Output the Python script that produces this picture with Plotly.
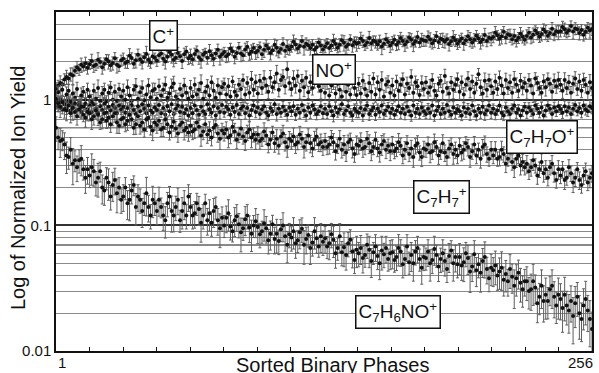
import plotly.graph_objects as go

phase = list(range(1, 257))

c_plus = [
1.22,1.30,1.36,1.33,1.45,1.52,1.48,1.60,1.56,1.70,1.82,1.74,1.90,1.84,1.95,1.80,
1.92,2.04,1.86,1.90,2.08,2.00,1.82,1.94,2.10,2.02,1.88,1.96,2.14,1.90,1.85,2.06,
2.12,1.96,2.02,2.24,2.15,1.94,2.06,2.28,2.10,2.00,2.18,2.32,2.08,1.98,2.22,2.16,
2.05,2.26,2.34,2.12,2.02,2.20,2.40,2.28,2.08,2.16,2.36,2.22,2.04,2.30,2.42,2.14,
2.24,2.10,2.32,2.46,2.18,2.08,2.28,2.38,2.16,2.44,2.26,2.12,2.34,2.50,2.20,2.30,
2.40,2.22,2.30,2.56,2.44,2.20,2.36,2.60,2.34,2.26,2.52,2.64,2.32,2.42,2.58,2.38,
2.46,2.62,2.30,2.50,2.70,2.56,2.36,2.48,2.74,2.60,2.40,2.54,2.78,2.46,2.64,2.52,
2.66,2.90,2.76,2.56,2.68,2.94,2.64,2.80,2.72,2.58,2.74,2.50,2.62,2.86,2.70,2.52,
2.66,2.82,2.58,2.70,2.94,2.78,2.60,2.74,2.98,2.84,2.64,2.76,3.02,2.72,2.88,2.80,
2.84,3.08,2.94,2.72,2.86,3.10,2.82,2.96,2.90,2.76,2.92,2.66,2.80,3.04,2.88,2.70,
2.84,3.00,2.74,2.88,3.10,2.94,2.76,2.90,3.14,3.00,2.78,2.92,3.16,2.86,3.02,2.96,
2.94,3.18,3.02,2.82,2.96,3.20,2.88,3.06,3.00,2.90,3.04,2.78,2.92,3.14,2.98,2.80,
2.94,3.08,2.82,2.98,3.20,3.04,2.86,3.00,3.24,3.08,2.88,3.02,3.28,2.94,3.12,3.06,
3.16,3.42,3.26,3.06,3.20,3.48,3.14,3.32,3.26,3.04,3.22,2.96,3.12,3.36,3.18,3.00,
3.22,3.42,3.14,3.30,3.56,3.38,3.18,3.34,3.62,3.46,3.24,3.40,3.68,3.32,3.52,3.46,
3.52,3.80,3.64,3.42,3.58,3.86,3.50,3.70,3.64,3.40,3.60,3.30,3.48,3.74,3.56,3.66]

no_plus = [
0.98,1.15,1.02,1.20,0.94,1.10,1.18,0.96,1.12,1.04,1.22,0.95,1.08,1.16,1.00,1.20,
1.06,0.96,1.18,1.02,1.24,0.98,1.12,1.20,0.97,1.14,1.25,1.00,1.16,0.98,1.22,1.06,
1.18,1.00,1.26,1.08,0.98,1.20,1.28,1.02,1.15,1.24,0.99,1.10,1.30,1.05,1.18,1.22,
1.02,1.28,1.08,1.20,1.32,1.04,1.12,1.26,1.35,1.06,1.00,1.22,1.08,1.30,1.14,1.02,
1.24,1.06,1.32,1.10,1.20,1.36,1.02,1.16,1.28,1.08,1.38,1.18,1.04,1.30,1.12,1.26,
1.34,1.10,1.28,1.06,1.40,1.16,1.08,1.32,1.22,1.44,1.10,1.36,1.14,1.46,1.20,1.38,
1.12,1.42,1.24,1.48,1.30,1.16,1.50,1.26,1.38,1.62,1.20,1.44,1.52,1.28,1.75,1.36,
1.22,1.48,1.30,1.55,1.18,1.42,1.26,1.50,1.15,1.38,1.24,1.46,1.52,1.28,1.18,1.40,
1.14,1.36,1.08,1.30,1.42,1.12,1.34,1.20,1.06,1.38,1.16,1.32,1.10,1.45,1.24,1.09,
1.34,1.12,1.42,1.22,1.08,1.36,1.16,1.48,1.10,1.38,1.20,1.44,1.06,1.32,1.40,1.14,
1.30,1.08,1.40,1.18,1.32,1.46,1.10,1.34,1.24,1.52,1.14,1.38,1.28,1.09,1.36,1.22,
1.38,1.14,1.26,1.44,1.18,1.08,1.34,1.42,1.16,1.55,1.24,1.12,1.38,1.20,1.32,1.46,
1.16,1.38,1.10,1.32,1.48,1.22,1.40,1.14,1.34,1.60,1.26,1.12,1.42,1.20,1.44,1.28,
1.14,1.40,1.22,1.50,1.30,1.12,1.44,1.24,1.38,1.14,1.46,1.32,1.18,1.42,1.26,1.36,
1.18,1.44,1.30,1.12,1.48,1.36,1.24,1.14,1.40,1.26,1.46,1.34,1.16,1.42,1.28,1.44,
1.32,1.18,1.44,1.24,1.38,1.14,1.34,1.48,1.22,1.40,1.18,1.44,1.32,1.14,1.38,1.24]

c7h7o_plus = [
0.98,0.88,0.95,0.84,0.92,0.86,0.97,0.82,0.90,0.94,0.83,0.91,0.80,0.88,0.93,0.84,
0.90,0.80,0.92,0.85,0.78,0.89,0.83,0.93,0.79,0.88,0.82,0.91,0.86,0.78,0.90,0.84,
0.88,0.79,0.86,0.76,0.91,0.83,0.77,0.89,0.81,0.92,0.85,0.78,0.90,0.82,0.79,0.87,
0.83,0.91,0.78,0.86,0.76,0.89,0.81,0.92,0.77,0.85,0.90,0.80,0.88,0.78,0.84,0.75,
0.86,0.78,0.90,0.83,0.76,0.88,0.81,0.77,0.92,0.84,0.79,0.89,0.75,0.86,0.80,0.91,
0.79,0.88,0.84,0.76,0.87,0.80,0.91,0.77,0.85,0.89,0.78,0.86,0.75,0.83,0.90,0.80,
0.87,0.77,0.84,0.89,0.79,0.75,0.86,0.81,0.92,0.77,0.85,0.79,0.88,0.82,0.76,0.87,
0.81,0.89,0.76,0.85,0.79,0.91,0.82,0.75,0.87,0.79,0.90,0.84,0.77,0.81,0.89,0.78,
0.85,0.77,0.89,0.81,0.75,0.87,0.79,0.84,0.92,0.77,0.82,0.89,0.79,0.75,0.85,0.81,
0.79,0.86,0.75,0.84,0.90,0.77,0.82,0.87,0.76,0.85,0.80,0.90,0.77,0.82,0.88,0.79,
0.85,0.76,0.82,0.89,0.79,0.85,0.77,0.88,0.81,0.75,0.90,0.79,0.85,0.77,0.87,0.81,
0.77,0.85,0.79,0.90,0.75,0.82,0.88,0.77,0.85,0.79,0.91,0.81,0.76,0.87,0.79,0.84,
0.81,0.75,0.87,0.79,0.85,0.77,0.90,0.81,0.75,0.85,0.79,0.88,0.77,0.82,0.90,0.79,
0.85,0.77,0.82,0.90,0.79,0.75,0.87,0.81,0.77,0.85,0.90,0.79,0.84,0.75,0.82,0.88,
0.79,0.87,0.82,0.77,0.90,0.85,0.79,0.87,0.75,0.82,0.90,0.85,0.77,0.87,0.81,0.89,
0.84,0.79,0.89,0.81,0.87,0.77,0.85,0.91,0.81,0.86,0.79,0.90,0.84,0.81,0.89,0.86]

c7h7_plus = [
1.02,0.94,0.88,0.96,0.84,0.82,0.90,0.78,0.86,0.80,0.74,0.84,0.88,0.76,0.72,0.80,
0.78,0.70,0.74,0.82,0.76,0.66,0.70,0.78,0.68,0.72,0.64,0.74,0.78,0.66,0.62,0.70,
0.72,0.64,0.68,0.76,0.70,0.60,0.64,0.74,0.62,0.66,0.58,0.70,0.72,0.61,0.57,0.66,
0.63,0.68,0.58,0.60,0.70,0.64,0.55,0.61,0.67,0.59,0.54,0.63,0.66,0.57,0.60,0.55,
0.62,0.56,0.58,0.66,0.61,0.52,0.56,0.64,0.53,0.57,0.50,0.60,0.63,0.54,0.49,0.57,
0.54,0.58,0.50,0.52,0.61,0.56,0.48,0.53,0.59,0.51,0.47,0.55,0.58,0.50,0.53,0.48,
0.53,0.47,0.49,0.56,0.52,0.44,0.48,0.55,0.45,0.49,0.43,0.51,0.54,0.46,0.42,0.49,
0.47,0.51,0.44,0.46,0.53,0.49,0.42,0.46,0.52,0.45,0.41,0.48,0.51,0.44,0.46,0.42,
0.47,0.42,0.44,0.50,0.46,0.39,0.43,0.49,0.40,0.44,0.38,0.46,0.48,0.41,0.37,0.44,
0.43,0.47,0.41,0.42,0.49,0.45,0.39,0.42,0.48,0.41,0.38,0.44,0.47,0.40,0.43,0.39,
0.44,0.39,0.41,0.46,0.43,0.36,0.40,0.45,0.37,0.41,0.35,0.43,0.45,0.38,0.35,0.41,
0.40,0.44,0.38,0.39,0.46,0.42,0.36,0.39,0.45,0.38,0.35,0.41,0.44,0.37,0.40,0.36,
0.43,0.38,0.40,0.45,0.42,0.35,0.39,0.44,0.36,0.40,0.34,0.42,0.44,0.37,0.34,0.40,
0.36,0.40,0.34,0.35,0.40,0.37,0.31,0.34,0.38,0.32,0.29,0.34,0.36,0.30,0.32,0.29,
0.31,0.27,0.29,0.33,0.30,0.25,0.28,0.32,0.26,0.28,0.24,0.29,0.31,0.26,0.23,0.28,
0.25,0.28,0.23,0.24,0.29,0.26,0.22,0.24,0.28,0.23,0.21,0.25,0.27,0.22,0.24,0.26]

c7h6no_plus = [
0.60,0.50,0.47,0.48,0.44,0.36,0.35,0.40,0.31,0.33,0.29,0.33,0.34,0.28,0.24,0.28,
0.25,0.29,0.27,0.22,0.24,0.27,0.20,0.19,0.24,0.22,0.17,0.21,0.23,0.18,0.20,0.16,
0.17,0.20,0.15,0.16,0.19,0.21,0.14,0.17,0.16,0.13,0.15,0.18,0.14,0.12,0.16,0.15,
0.13,0.16,0.14,0.12,0.11,0.15,0.17,0.13,0.12,0.14,0.16,0.11,0.13,0.15,0.12,0.17,
0.14,0.12,0.125,0.15,0.135,0.105,0.12,0.15,0.11,0.125,0.105,0.13,0.14,0.11,0.095,0.115,
0.10,0.115,0.125,0.098,0.09,0.11,0.118,0.102,0.088,0.095,0.112,0.12,0.096,0.086,0.10,0.108,
0.097,0.085,0.09,0.104,0.095,0.076,0.086,0.102,0.078,0.086,0.075,0.093,0.10,0.082,0.07,0.085,
0.08,0.09,0.072,0.076,0.088,0.094,0.07,0.078,0.084,0.066,0.073,0.09,0.079,0.068,0.082,0.074,
0.079,0.068,0.072,0.085,0.077,0.06,0.066,0.082,0.061,0.067,0.058,0.072,0.077,0.062,0.053,0.064,
0.06,0.066,0.055,0.058,0.07,0.064,0.052,0.061,0.068,0.057,0.05,0.063,0.059,0.066,0.054,0.06,
0.061,0.053,0.056,0.066,0.062,0.049,0.054,0.068,0.051,0.058,0.05,0.062,0.066,0.054,0.046,0.056,
0.055,0.062,0.05,0.053,0.065,0.058,0.047,0.054,0.06,0.052,0.045,0.057,0.063,0.05,0.056,0.049,
0.056,0.048,0.051,0.06,0.055,0.043,0.047,0.059,0.044,0.049,0.042,0.052,0.056,0.045,0.038,0.046,
0.044,0.048,0.04,0.043,0.046,0.037,0.041,0.036,0.045,0.039,0.033,0.038,0.042,0.035,0.031,0.036,
0.036,0.03,0.031,0.036,0.032,0.024,0.027,0.033,0.025,0.028,0.025,0.031,0.033,0.027,0.023,0.028,
0.026,0.022,0.028,0.023,0.021,0.025,0.019,0.024,0.027,0.02,0.018,0.023,0.026,0.021,0.018,0.015]

# relative error bars, percent of value
c_plus_err = [
12,10,14,9,11,13,10,12,15,9,11,10,13,8,12,11, 9,13,11,10,14,8,12,11,9,13,10,12,11,14,9,10,
11,9,12,14,10,8,13,11,10,12,9,15,11,10,13,9, 10,12,8,11,13,10,9,14,12,10,11,9,13,12,10,11,
13,10,11,9,12,14,10,8,11,13,10,12,9,11,14,10, 9,11,13,10,8,12,11,10,14,9,12,10,11,13,9,12,
12,10,9,13,11,10,12,8,11,14,10,9,12,11,13,10, 10,13,11,9,12,10,14,11,9,12,10,13,11,8,12,10,
11,9,12,10,13,11,9,12,10,14,11,10,9,12,10,13, 10,12,11,9,10,13,12,9,11,10,12,14,10,11,9,12,
12,9,10,13,11,10,12,11,9,12,13,10,11,9,12,10, 9,11,13,10,12,9,11,10,13,11,10,12,9,13,11,10,
11,10,12,9,11,13,10,12,10,9,12,11,13,10,9,12, 10,12,9,11,13,10,11,9,12,10,13,11,10,12,11,9,
12,10,11,13,9,11,10,12,11,13,10,9,12,11,10,13, 10,11,12,9,11,10,13,11,9,12,10,11,12,10,13,11]

no_plus_err = [
14,12,16,11,13,15,12,14,17,11,13,12,15,10,14,13, 11,15,13,12,16,10,14,13,11,15,12,14,13,16,11,12,
13,11,14,16,12,10,15,13,12,14,11,17,13,12,15,11, 12,14,10,13,15,12,11,16,14,12,13,11,15,14,12,13,
15,12,13,11,14,16,12,10,13,15,12,14,11,13,16,12, 11,13,15,12,10,14,13,12,16,11,14,12,13,15,11,14,
14,12,11,15,13,12,14,10,13,16,12,11,14,13,15,12, 12,15,13,11,14,12,16,13,11,14,12,15,13,10,14,12,
13,11,14,12,15,13,11,14,12,16,13,12,11,14,12,15, 12,14,13,11,12,15,14,11,13,12,14,16,12,13,11,14,
14,11,12,15,13,12,14,13,11,14,15,12,13,11,14,12, 11,13,15,12,14,11,13,12,15,13,12,14,11,15,13,12,
13,12,14,11,13,15,12,14,12,11,14,13,15,12,11,14, 12,14,11,13,15,12,13,11,14,12,15,13,12,14,13,11,
14,12,13,15,11,13,12,14,13,15,12,11,14,13,12,15, 12,13,14,11,13,12,15,13,11,14,12,13,14,12,15,13]

c7h7o_plus_err = [
10,9,12,8,10,11,9,10,13,8,10,9,11,7,10,10, 8,11,10,9,12,7,10,10,8,11,9,10,10,12,8,9,
10,8,10,12,9,7,11,10,9,10,8,13,10,9,11,8, 9,10,7,10,11,9,8,12,10,9,10,8,11,10,9,10,
11,9,10,8,10,12,9,7,10,11,9,10,8,10,12,9, 8,10,11,9,7,10,10,9,12,8,10,9,10,11,8,10,
10,9,8,11,10,9,10,7,10,12,9,8,10,10,11,9, 9,11,10,8,10,9,12,10,8,10,9,11,10,7,10,9,
10,8,10,9,11,10,8,10,9,12,10,9,8,10,9,11, 9,10,10,8,9,11,10,8,10,9,10,12,9,10,8,10,
10,8,9,11,10,9,10,10,8,10,11,9,10,8,10,9, 8,10,11,9,10,8,10,9,11,10,9,10,8,11,10,9,
10,9,10,8,10,11,9,10,9,8,10,10,11,9,8,10, 9,10,8,10,11,9,10,8,10,9,11,10,9,10,10,8,
10,9,10,11,8,10,9,10,10,11,9,8,10,10,9,11, 9,10,10,8,10,9,11,10,8,10,9,10,10,9,11,10]

c7h7_plus_err = [
16,14,18,13,15,17,14,16,20,13,15,14,17,12,16,15, 13,17,15,14,18,12,16,15,13,17,14,16,15,18,13,14,
15,13,16,18,14,12,17,15,14,16,13,20,15,14,17,13, 14,16,12,15,17,14,13,18,16,14,15,13,17,16,14,15,
17,14,15,13,16,18,14,12,15,17,14,16,13,15,18,14, 13,15,17,14,12,16,15,14,18,13,16,14,15,17,13,16,
16,14,13,17,15,14,16,12,15,18,14,13,16,15,17,14, 14,17,15,13,16,14,18,15,13,16,14,17,15,12,16,14,
15,13,16,14,17,15,13,16,14,18,15,14,13,16,14,17, 14,16,15,13,14,17,16,13,15,14,16,18,14,15,13,16,
16,13,14,17,15,14,16,15,13,16,17,14,15,13,16,14, 13,15,17,14,16,13,15,14,17,15,14,16,13,17,15,14,
15,14,16,13,15,17,14,16,14,13,16,15,17,14,13,16, 14,16,13,15,17,14,15,13,16,14,17,15,14,16,15,13,
16,14,15,17,13,15,14,16,15,17,14,13,16,15,14,17, 14,15,16,13,15,14,17,15,13,16,14,15,16,14,17,15]

c7h6no_plus_err = [
22,20,26,18,24,28,20,25,32,19,23,21,27,18,25,24, 20,28,24,22,30,18,26,24,20,28,22,26,24,30,20,22,
24,20,26,32,22,18,28,24,22,26,20,34,24,22,28,20, 22,26,18,24,28,22,20,32,26,22,24,20,28,26,22,24,
28,22,24,20,26,30,22,18,24,28,22,26,20,24,30,22, 20,24,28,22,18,26,24,22,30,20,26,22,24,28,20,26,
26,22,20,28,24,22,26,18,24,30,22,20,26,24,28,22, 22,28,24,20,26,22,30,24,20,26,22,28,24,18,26,22,
24,20,26,22,28,24,20,26,22,30,24,22,20,26,22,28, 22,26,24,20,22,28,26,20,24,22,26,30,22,24,20,26,
26,20,22,28,24,22,26,24,20,26,28,22,24,20,26,22, 20,24,28,22,26,20,24,22,28,24,22,26,20,28,24,22,
28,24,30,22,26,32,24,28,26,22,30,26,32,24,22,28, 26,30,24,28,34,26,28,24,30,26,34,28,26,30,28,24,
30,28,32,36,26,30,28,34,32,36,28,26,34,32,28,36, 32,36,38,30,34,32,40,36,30,38,34,36,38,32,40,36]

series = [
    (c_plus, c_plus_err),
    (no_plus, no_plus_err),
    (c7h7o_plus, c7h7o_plus_err),
    (c7h7_plus, c7h7_plus_err),
    (c7h6no_plus, c7h6no_plus_err),
]

labels = ["C<sup>+</sup>", "NO<sup>+</sup>", "C<sub>7</sub>H<sub>7</sub>O<sup>+</sup>",
          "C<sub>7</sub>H<sub>7</sub><sup>+</sup>", "C<sub>7</sub>H<sub>6</sub>NO<sup>+</sup>"]
label_pos = [(0.2007, 0.932), (0.5186, 0.829), (0.906, 0.630), (0.7193, 0.454), (0.6385, 0.114)]

minor_grid = [0.02, 0.03, 0.04, 0.05, 0.06, 0.07, 0.08, 0.09,
              0.2, 0.3, 0.4, 0.5, 0.6, 0.7, 0.8, 0.9, 2, 3, 4]
dark_grid = [0.07, 0.6]

FONT = "Liberation Sans, Arial, sans-serif"

fig = go.Figure()
for vals, err in series:
    fig.add_trace(go.Scatter(
        x=phase, y=vals, mode="markers",
        marker=dict(size=4, color="#111111"),
        error_y=dict(type="data", array=[v * e / 100 for v, e in zip(vals, err)],
                     color="#5e5e5e", thickness=1, width=1.5),
        showlegend=False, hoverinfo="skip"))

for g in dark_grid:
    fig.add_hline(y=g, line=dict(color="#111111", width=1.4), layer="below")

annotations = []
for txt, (px, py) in zip(labels, label_pos):
    annotations.append(dict(text=txt, xref="paper", yref="paper", x=px, y=py,
                            xanchor="center", yanchor="middle",
                            showarrow=False, font=dict(family=FONT, size=19, color="#111111"),
                            bgcolor="white", bordercolor="#111111", borderwidth=1.5, borderpad=2))
annotations += [
    dict(text="1", xref="x", yref="paper", x=1, y=0, xanchor="left", yanchor="top",
         yshift=-1, showarrow=False, font=dict(family=FONT, size=15, color="#111111")),
    dict(text="256", xref="x", yref="paper", x=256, y=0, xanchor="right", yanchor="top",
         xshift=3, yshift=-1, showarrow=False, font=dict(family=FONT, size=15, color="#111111")),
    dict(text="Sorted Binary Phases", xref="paper", yref="paper", x=0.515, y=0,
         xanchor="center", yanchor="top", yshift=-1, showarrow=False,
         font=dict(family=FONT, size=20, color="#111111")),
    dict(text="Log of Normalized Ion Yield", xref="paper", yref="paper", x=-0.0706, y=0.481,
         xanchor="center", yanchor="middle", textangle=-90, showarrow=False,
         font=dict(family=FONT, size=20, color="#111111")),
]

fig.update_layout(
    width=599, height=373,
    margin=dict(l=56, r=5, t=12, b=22),
    paper_bgcolor="white", plot_bgcolor="white",
    font=dict(family=FONT, color="#111111"),
    annotations=annotations,
    xaxis=dict(range=[1, 256], showgrid=False, zeroline=False,
               showline=True, linecolor="#111111", linewidth=1.5, mirror="ticks",
               ticks="inside", ticklen=4, tickcolor="#111111", tickwidth=1,
               tick0=1, dtick=255 / 16, showticklabels=False),
    yaxis=dict(type="log", range=[-2, 0.699], showline=True, linecolor="#111111",
               linewidth=1.5, mirror=True, ticks="",
               tickvals=[0.01, 0.1, 1], ticktext=["0.01", "0.1", "1"],
               tickfont=dict(family=FONT, size=15, color="#111111"),
               showgrid=True, gridcolor="#333333", gridwidth=1.5, zeroline=False,
               minor=dict(tickvals=minor_grid, showgrid=True, gridcolor="#8a8a8a",
                          gridwidth=1, ticks="")),
)

fig.write_html("out.html", config={"displayModeBar": False},
               post_script="document.body.style.margin='0';")
